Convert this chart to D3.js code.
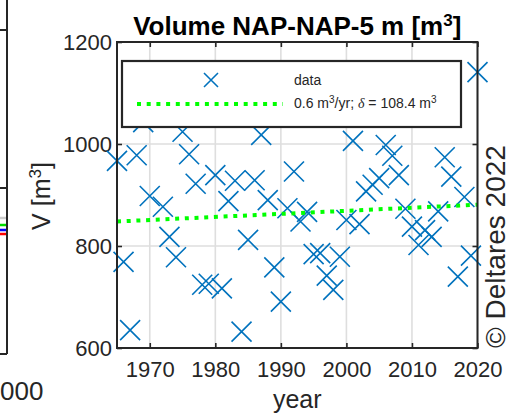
<!DOCTYPE html>
<html>
<head>
<meta charset="utf-8">
<script src="https://cdn.jsdelivr.net/npm/d3@7"></script>
<style>
  body { margin: 0; background: #fff; }
  svg { display: block; font-family: "Liberation Sans", Arial, sans-serif; }
</style>
</head>
<body>
<svg id="chart" width="513" height="415"></svg>
<script>
const years = [1965, 1966, 1967, 1968, 1969, 1970, 1972, 1973, 1974, 1975,
  1976, 1977, 1978, 1979, 1980, 1981, 1982, 1983, 1984, 1985,
  1986, 1987, 1988, 1989, 1990, 1991, 1992, 1993, 1994, 1995,
  1996, 1997, 1998, 1999, 2000, 2001, 2002, 2003, 2004, 2005,
  2006, 2007, 2008, 2009, 2010, 2011, 2012, 2013, 2014, 2015,
  2016, 2017, 2018, 2019, 2020];
const volumes = [967, 769, 635, 978, 1043, 898, 877, 818, 778, 1024,
  980, 922, 724, 726, 939, 717, 888, 928, 632, 812,
  929, 1018, 890, 758, 691, 874, 946, 848, 867, 784,
  786, 742, 714, 779, 851, 1006, 843, 907, 920, 933,
  998, 977, 939, 873, 838, 802, 831, 818, 868, 974,
  936, 740, 896, 781, 1141];

// Linear trend (end points)
const trendYears = [1965, 2020];
const trendValues = [848, 881];

const xTicks = [1970, 1980, 1990, 2000, 2010, 2020];
const yTicks = [600, 800, 1000, 1200];

const svg = d3.select("#chart");
const axisColor = "#262626";
const blue = "#0072BD";

// Plot box
const pLeft = 117, pRight = 477.5, pTop = 42, pBottom = 348;

const x = d3.scaleLinear().domain([1965, 2020]).range([pLeft, pRight]);
const y = d3.scaleLinear().domain([600, 1200]).range([pBottom, pTop]);

// --- piece of the neighbouring subplot on the left ---
const nb = svg.append("g");
nb.append("line").attr("x1", 7).attr("x2", 7).attr("y1", 0).attr("y2", 354)
  .attr("stroke", axisColor).attr("stroke-width", 2);
[30, 188, 354].forEach(v => {
  nb.append("line").attr("x1", 0).attr("x2", 7).attr("y1", v).attr("y2", v)
    .attr("stroke", axisColor).attr("stroke-width", 2);
});
[["#cccccc", 218], ["#00dd00", 225], ["#0000ff", 230], ["#ff0000", 234]].forEach(s => {
  nb.append("line").attr("x1", 0).attr("x2", 6).attr("y1", s[1]).attr("y2", s[1])
    .attr("stroke", s[0]).attr("stroke-width", 2.5);
});
// only the end of that subplot's last tick label is in view
nb.append("text").attr("x", 0).attr("y", 400)
  .attr("font-size", 26).attr("fill", axisColor).text("000");

// --- grid ---
const grid = svg.append("g").attr("stroke", "#dedede").attr("stroke-width", 1.6);
grid.selectAll(".gx").data(xTicks).enter().append("line")
  .attr("x1", d => x(d)).attr("x2", d => x(d)).attr("y1", pTop).attr("y2", pBottom);
grid.selectAll(".gy").data(yTicks).enter().append("line")
  .attr("x1", pLeft).attr("x2", pRight).attr("y1", d => y(d)).attr("y2", d => y(d));

// --- axes (ticks pointing inwards on all four sides) ---
function styleAxis(g) {
  g.select(".domain").remove();
  g.selectAll(".tick line").attr("stroke", axisColor).attr("stroke-width", 1.6);
  g.selectAll(".tick text").attr("fill", axisColor).attr("font-size", 22);
}
svg.append("g").attr("transform", `translate(0,${pBottom})`)
  .call(d3.axisBottom(x).tickValues(xTicks).tickFormat(d3.format("d"))
    .tickSizeInner(-5).tickSizeOuter(0).tickPadding(13.5))
  .call(styleAxis);
svg.append("g").attr("transform", `translate(0,${pTop})`)
  .call(d3.axisTop(x).tickValues(xTicks).tickFormat("").tickSizeInner(-5).tickSizeOuter(0))
  .call(styleAxis);
svg.append("g").attr("transform", `translate(${pLeft},0)`)
  .call(d3.axisLeft(y).tickValues(yTicks).tickFormat(d3.format("d"))
    .tickSizeInner(-5).tickSizeOuter(0).tickPadding(5))
  .call(styleAxis);
svg.append("g").attr("transform", `translate(${pRight},0)`)
  .call(d3.axisRight(y).tickValues(yTicks).tickFormat("").tickSizeInner(-5).tickSizeOuter(0))
  .call(styleAxis);

// --- data crosses ---
const cross = "M-10,-10L10,10M-10,10L10,-10";
svg.append("g").selectAll("path").data(years).enter().append("path")
  .attr("d", cross)
  .attr("transform", (d, i) => `translate(${x(d)},${y(volumes[i])})`)
  .attr("fill", "none").attr("stroke", blue).attr("stroke-width", 1.6);

// --- trend line ---
const line = d3.line().x(d => x(d[0])).y(d => y(d[1]));
svg.append("path").datum(trendYears.map((d, i) => [d, trendValues[i]]))
  .attr("d", line).attr("fill", "none")
  .attr("stroke", "#00ff00").attr("stroke-width", 4).attr("stroke-dasharray", "4 5.7");

// --- frame ---
svg.append("rect").attr("x", pLeft).attr("y", pTop)
  .attr("width", pRight - pLeft).attr("height", pBottom - pTop)
  .attr("fill", "none").attr("stroke", axisColor).attr("stroke-width", 2);

// --- legend ---
const lg = svg.append("g");
lg.append("rect").attr("x", 122).attr("y", 61).attr("width", 339).attr("height", 66)
  .attr("fill", "#fff").attr("stroke", axisColor).attr("stroke-width", 2.2);
lg.append("path").attr("d", cross).attr("transform", "translate(211,80) scale(0.7)")
  .attr("fill", "none").attr("stroke", blue).attr("stroke-width", 2.2);
lg.append("text").attr("x", 294).attr("y", 85).attr("font-size", 14)
  .attr("fill", axisColor).text("data");
lg.append("line").attr("x1", 137).attr("x2", 283).attr("y1", 104).attr("y2", 104)
  .attr("stroke", "#00ff00").attr("stroke-width", 4).attr("stroke-dasharray", "4 5.7");
const lt = lg.append("text").attr("x", 294).attr("y", 108).attr("font-size", 14).attr("fill", axisColor);
lt.append("tspan").text("0.6 m");
lt.append("tspan").attr("dy", -5).attr("font-size", 10).text("3");
lt.append("tspan").attr("dy", 5).text("/yr; ");
lt.append("tspan").attr("font-family", "Liberation Serif, serif").attr("font-style", "italic").text("δ");
lt.append("tspan").text(" = 108.4 m");
lt.append("tspan").attr("dy", -5).attr("font-size", 10).text("3");

// --- title and labels ---
const title = svg.append("text").attr("x", (pLeft + pRight) / 2).attr("y", 35)
  .attr("text-anchor", "middle").attr("font-size", 26).attr("font-weight", "bold")
  .attr("fill", "#000");
title.append("tspan").text("Volume NAP-NAP-5 m [m");
title.append("tspan").attr("dy", -9).attr("font-size", 17).text("3");
title.append("tspan").attr("dy", 9).text("]");

svg.append("text").attr("x", (pLeft + pRight) / 2).attr("y", 408)
  .attr("text-anchor", "middle").attr("font-size", 25).attr("fill", axisColor).text("year");

const yl = svg.append("text").attr("transform", "translate(50,196) rotate(-90)")
  .attr("text-anchor", "middle").attr("font-size", 25).attr("fill", axisColor);
yl.append("tspan").text("V [m");
yl.append("tspan").attr("dy", -9).attr("font-size", 17).text("3");
yl.append("tspan").attr("dy", 9).text("]");

svg.append("text").attr("transform", "translate(505,246.5) rotate(-90)")
  .attr("text-anchor", "middle").attr("font-size", 28).attr("fill", axisColor)
  .text("© Deltares 2022");
</script>
</body>
</html>
